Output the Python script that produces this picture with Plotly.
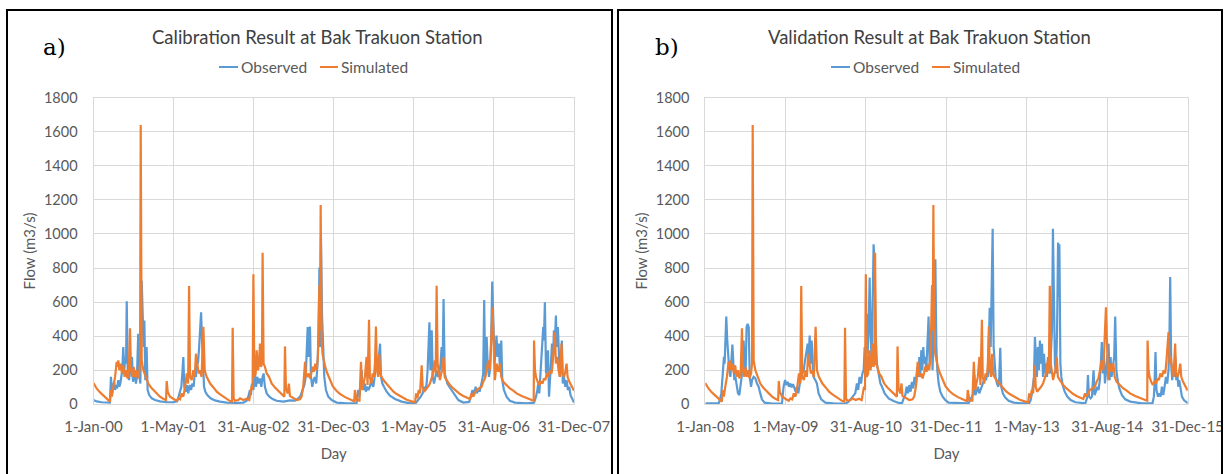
import pandas as pd
import plotly.graph_objects as go

# ---------------- data (day offset from period start, flow m3/s) ----------------
CAL_START, CAL_END = "2000-01-01", "2007-12-31"
VAL_START, VAL_END = "2008-01-01", "2015-12-31"

CAL_TICK_DATES = ["2000-01-01", "2001-05-01", "2002-08-31", "2003-12-31",
                  "2005-05-01", "2006-08-31", "2007-12-31"]
CAL_TICK_TEXT = ["1-Jan-00", "1-May-01", "31-Aug-02", "31-Dec-03",
                 "1-May-05", "31-Aug-06", "31-Dec-07"]
VAL_TICK_DATES = ["2008-01-01", "2009-05-01", "2010-08-31", "2011-12-31",
                  "2013-05-01", "2014-08-31", "2015-12-31"]
VAL_TICK_TEXT = ["1-Jan-08", "1-May-09", "31-Aug-10", "31-Dec-11",
                 "1-May-13", "31-Aug-14", "31-Dec-15"]
Y_TICKS = [0, 200, 400, 600, 800, 1000, 1200, 1400, 1600, 1800]

SIM = [(0,125),(19,93),(40,70),(60,51),(80,33),(100,16),(106,84),(112,45),(121,103),(131,161),(141,249),(147,220),(151,258),(157,200),(165,239),(173,181),(181,229),(189,161),(198,200),(206,152),(214,181),(222,447),(228,200),(236,161),(244,220),(252,161),(260,200),(268,152),(277,181),(283,239),(287,1640),(293,258),(303,200),(317,161),(333,122),(350,99),(364,84),(384,60),(404,45),(424,33),(441,25),(445,136),(451,74),(465,45),(485,31),(505,21),(516,35),(526,29),(536,64),(546,45),(557,103),(567,181),(575,122),(581,695),(587,161),(597,142),(607,200),(615,161),(623,297),(631,239),(639,181),(647,200),(657,161),(668,455),(676,200),(688,161),(709,122),(729,99),(749,74),(770,58),(790,45),(810,29),(830,19),(842,16),(846,450),(852,35),(860,21),(880,25),(891,35),(911,25),(931,33),(947,25),(961,103),(967,84),(972,764),(978,161),(986,181),(992,317),(1000,200),(1006,239),(1012,356),(1018,220),(1024,239),(1028,890),(1034,239),(1042,220),(1053,181),(1067,161),(1083,122),(1103,99),(1124,80),(1144,60),(1160,45),(1164,340),(1170,93),(1180,64),(1188,122),(1194,49),(1215,35),(1235,25),(1255,29),(1265,45),(1275,103),(1286,249),(1292,181),(1300,161),(1308,181),(1316,152),(1324,181),(1332,220),(1340,191),(1348,239),(1356,200),(1364,278),(1373,700),(1377,434),(1381,1170),(1387,375),(1393,290),(1400,250),(1410,215),(1420,185),(1437,140),(1455,105),(1478,78),(1500,60),(1530,42),(1560,28),(1585,18),(1589,84),(1599,25),(1617,21),(1626,249),(1634,84),(1644,122),(1650,161),(1660,278),(1666,113),(1675,496),(1680,161),(1689,122),(1697,181),(1705,161),(1711,239),(1717,457),(1723,200),(1731,161),(1737,297),(1743,181),(1751,161),(1766,138),(1782,119),(1802,95),(1822,76),(1843,60),(1873,43),(1904,27),(1934,17),(1955,12),(1961,64),(1969,35),(1977,84),(1985,64),(1995,229),(2001,103),(2009,74),(2021,87),(2033,103),(2045,122),(2058,161),(2066,200),(2074,258),(2080,181),(2086,696),(2092,239),(2100,161),(2106,142),(2114,181),(2120,200),(2128,278),(2135,161),(2147,142),(2167,113),(2187,93),(2208,74),(2228,60),(2248,49),(2268,39),(2289,31),(2299,64),(2309,45),(2319,68),(2329,84),(2343,93),(2359,103),(2369,132),(2380,152),(2390,200),(2400,258),(2410,200),(2420,434),(2426,570),(2432,375),(2440,142),(2450,239),(2461,191),(2471,239),(2479,161),(2491,132),(2511,113),(2531,93),(2552,80),(2572,64),(2603,49),(2633,35),(2664,25),(2676,21),(2678,375),(2684,200),(2690,161),(2700,132),(2710,113),(2720,132),(2730,122),(2738,152),(2747,142),(2755,181),(2765,161),(2775,200),(2785,181),(2791,239),(2805,424),(2811,239),(2819,278),(2827,200),(2835,161),(2845,356),(2851,181),(2860,161),(2868,191),(2876,239),(2882,161),(2893,132),(2907,107),(2921,80)]

OBS_CAL = [(0,25),(19,17),(50,12),(80,10),(100,10),(106,161),(112,64),(119,103),(125,132),(131,84),(137,113),(143,93),(151,142),(157,103),(163,122),(169,161),(175,200),(181,336),(187,200),(193,278),(198,239),(202,605),(208,200),(216,142),(222,200),(228,258),(234,278),(240,132),(246,181),(252,161),(258,122),(264,161),(272,414),(279,161),(285,122),(293,725),(299,531),(305,336),(309,492),(315,142),(323,336),(329,84),(339,54),(354,35),(374,25),(404,17),(445,12),(485,12),(509,17),(518,45),(526,64),(534,103),(540,181),(546,278),(552,103),(560,74),(568,113),(576,64),(585,113),(593,84),(601,122),(609,103),(617,200),(623,161),(629,278),(635,239),(641,317),(647,472),(654,540),(660,375),(666,239),(672,103),(680,74),(692,54),(712,35),(738,23),(769,16),(810,10),(870,8),(911,10),(931,21),(941,45),(951,84),(957,54),(963,122),(972,84),(982,181),(988,103),(996,161),(1004,122),(1012,152),(1020,103),(1028,161),(1034,181),(1042,103),(1053,64),(1069,45),(1089,31),(1113,21),(1154,16),(1194,23),(1225,21),(1245,35),(1259,51),(1271,84),(1282,113),(1290,161),(1296,278),(1302,453),(1308,278),(1316,457),(1322,161),(1330,103),(1338,142),(1346,161),(1354,122),(1362,239),(1369,434),(1373,803),(1377,336),(1383,978),(1389,531),(1395,336),(1403,161),(1413,84),(1427,45),(1448,25),(1468,16),(1478,10),(1538,6),(1599,6),(1610,84),(1616,45),(1624,103),(1630,200),(1636,103),(1642,84),(1650,122),(1656,74),(1664,103),(1672,84),(1680,103),(1689,152),(1695,113),(1701,103),(1709,161),(1715,239),(1721,278),(1727,200),(1733,258),(1742,356),(1748,161),(1756,122),(1766,103),(1782,74),(1802,51),(1833,31),(1873,16),(1924,6),(1961,10),(1975,25),(1989,45),(2001,64),(2011,103),(2019,84),(2025,122),(2031,200),(2035,278),(2042,482),(2048,200),(2052,278),(2056,434),(2062,161),(2070,122),(2078,161),(2086,200),(2094,161),(2102,181),(2110,239),(2116,336),(2122,200),(2128,618),(2135,181),(2143,152),(2151,122),(2163,103),(2177,84),(2197,51),(2218,25),(2248,10),(2284,14),(2296,54),(2304,84),(2312,54),(2323,103),(2331,64),(2339,93),(2347,74),(2355,103),(2363,142),(2369,181),(2375,612),(2381,161),(2390,395),(2396,239),(2404,161),(2410,200),(2416,317),(2424,721),(2430,434),(2438,239),(2444,317),(2450,404),(2456,278),(2464,356),(2471,200),(2479,375),(2485,142),(2495,84),(2511,45),(2531,21),(2562,10),(2633,6),(2678,10),(2690,45),(2698,84),(2704,122),(2710,64),(2716,181),(2722,239),(2728,375),(2734,453),(2738,375),(2744,599),(2751,181),(2757,239),(2763,317),(2769,45),(2775,200),(2781,239),(2787,356),(2793,258),(2799,434),(2805,375),(2811,521),(2817,336),(2823,453),(2829,278),(2835,161),(2841,239),(2847,375),(2853,122),(2860,161),(2868,103),(2876,142),(2884,84),(2892,103),(2900,54),(2910,29),(2921,10)]

OBS_VAL = [(0,6),(40,4),(81,6),(91,35),(97,64),(103,142),(107,200),(113,278),(117,239),(121,375),(127,515),(133,375),(139,239),(145,200),(152,161),(158,278),(164,350),(170,239),(176,142),(182,161),(190,122),(198,64),(206,54),(214,103),(220,161),(226,258),(232,375),(238,239),(244,181),(250,453),(256,472),(263,453),(269,161),(277,103),(283,142),(293,161),(303,152),(313,122),(323,103),(333,64),(343,29),(359,10),(404,4),(464,4),(474,103),(483,142),(491,113),(499,132),(507,103),(515,122),(523,99),(531,119),(539,93),(547,74),(555,103),(563,64),(571,113),(579,161),(587,181),(596,200),(604,258),(612,317),(620,356),(626,278),(632,404),(638,239),(644,375),(650,239),(656,161),(666,142),(676,122),(686,64),(702,29),(727,10),(787,4),(848,4),(868,16),(884,35),(898,54),(908,64),(918,122),(926,84),(934,161),(943,122),(951,181),(959,200),(965,336),(971,258),(977,531),(983,300),(989,433),(995,745),(1001,433),(1007,239),(1013,570),(1019,940),(1025,822),(1031,433),(1039,239),(1050,161),(1060,122),(1070,103),(1086,64),(1110,35),(1140,19),(1171,8),(1191,6),(1201,35),(1211,54),(1219,103),(1227,64),(1235,113),(1243,74),(1251,132),(1259,93),(1267,161),(1276,113),(1284,220),(1290,161),(1296,278),(1302,181),(1308,317),(1314,200),(1320,336),(1326,239),(1332,278),(1338,200),(1346,375),(1352,515),(1358,239),(1364,356),(1370,433),(1376,200),(1382,433),(1386,570),(1393,851),(1399,336),(1405,200),(1413,122),(1423,74),(1437,45),(1453,25),(1473,10),(1534,6),(1594,6),(1605,25),(1615,45),(1623,64),(1629,171),(1635,54),(1643,74),(1651,103),(1659,64),(1667,87),(1675,103),(1683,132),(1692,152),(1700,142),(1706,181),(1712,161),(1716,336),(1722,566),(1728,336),(1734,628),(1740,1030),(1746,336),(1752,200),(1758,161),(1766,122),(1774,103),(1780,161),(1786,332),(1792,103),(1802,64),(1816,39),(1837,21),(1867,10),(1917,6),(1962,8),(1970,25),(1978,64),(1984,103),(1990,161),(1996,395),(2002,239),(2008,161),(2014,336),(2020,200),(2026,375),(2032,239),(2039,356),(2045,161),(2051,297),(2057,181),(2063,239),(2069,161),(2075,278),(2081,200),(2087,181),(2093,278),(2099,433),(2105,1030),(2111,433),(2117,239),(2124,181),(2130,433),(2136,950),(2140,628),(2144,940),(2150,239),(2156,161),(2164,113),(2176,74),(2192,45),(2212,25),(2241,12),(2301,6),(2311,35),(2317,171),(2323,45),(2333,35),(2341,45),(2351,200),(2357,54),(2365,74),(2373,103),(2381,84),(2389,142),(2395,239),(2401,365),(2408,181),(2414,278),(2420,122),(2426,181),(2434,239),(2442,356),(2448,142),(2454,278),(2460,161),(2466,200),(2476,278),(2482,515),(2489,200),(2497,142),(2507,93),(2523,54),(2543,29),(2573,16),(2644,6),(2708,6),(2716,45),(2720,113),(2726,307),(2732,84),(2741,45),(2749,64),(2757,45),(2765,103),(2773,54),(2781,103),(2789,161),(2797,122),(2805,200),(2811,433),(2815,748),(2821,239),(2827,142),(2833,200),(2839,161),(2846,278),(2852,142),(2858,181),(2864,103),(2870,142),(2878,84),(2886,45),(2898,25),(2910,14),(2921,6)]

# simulated hydrograph read from panel b coincides with panel a
SIM_CAL = SIM
SIM_VAL = SIM

# ---------------- helpers ----------------
W, H = 1225, 474
BLUE, ORANGE = "#5B9BD5", "#ED7D31"
TXT = "#595959"
GRID = "#d9d9d9"
FONT = "Lato"


def px(x):
    return x / W


def py(y):
    return 1 - y / H


def to_xy(pairs, start):
    days = [p[0] for p in pairs]
    flow = [p[1] for p in pairs]
    x = pd.Timestamp(start) + pd.to_timedelta(days, unit="D")
    return x, flow


fig = go.Figure()

panels = [
    dict(obs=OBS_CAL, sim=SIM_CAL, start=CAL_START, end=CAL_END, xa="x", ya="y",
         tv=CAL_TICK_DATES, tt=CAL_TICK_TEXT, left=93.5, right=574.0, off=0,
         title="Calibration Result at Bak Trakuon Station", tag="a)"),
    dict(obs=OBS_VAL, sim=SIM_VAL, start=VAL_START, end=VAL_END, xa="x2", ya="y2",
         tv=VAL_TICK_DATES, tt=VAL_TICK_TEXT, left=705.3, right=1187.7, off=612,
         title="Validation Result at Bak Trakuon Station", tag="b)"),
]

annotations = []
shapes = []
top, bottom = 97.7, 404.3

for i, p in enumerate(panels):
    xo, yo = to_xy(p["obs"], p["start"])
    xs, ys = to_xy(p["sim"], p["start"])
    fig.add_trace(go.Scatter(x=xo, y=yo, mode="lines", name="Observed",
                             line=dict(color=BLUE, width=2.2), xaxis=p["xa"], yaxis=p["ya"],
                             showlegend=False))
    fig.add_trace(go.Scatter(x=xs, y=ys, mode="lines", name="Simulated",
                             line=dict(color=ORANGE, width=2.2), xaxis=p["xa"], yaxis=p["ya"],
                             showlegend=False))
    sfx = "" if i == 0 else "2"
    fig.layout["xaxis" + sfx] = dict(
        domain=[px(p["left"]), px(p["right"])], anchor=p["ya"], type="date",
        range=[p["start"], p["end"]], tickmode="array", tickvals=p["tv"], ticktext=p["tt"],
        showgrid=True, gridcolor=GRID, gridwidth=1, showline=True, linecolor=GRID,
        linewidth=1, mirror=True, zeroline=False, ticks="", ticklabelstandoff=9,
        tickfont=dict(family=FONT, size=15, color=TXT), automargin=False,
        title=dict(text="Day", font=dict(family=FONT, size=15, color=TXT), standoff=14),
    )
    fig.layout["yaxis" + sfx] = dict(
        domain=[py(bottom), py(top)], anchor=p["xa"], range=[0, 1800],
        tickmode="array", tickvals=Y_TICKS,
        showgrid=True, gridcolor=GRID, gridwidth=1, showline=True, linecolor=GRID,
        linewidth=1, mirror=True, zeroline=False, ticks="", ticklabelstandoff=12,
        tickfont=dict(family=FONT, size=14.5, color=TXT), automargin=False,
        title=dict(text="Flow (m3/s)", font=dict(family=FONT, size=15, color=TXT), standoff=4),
    )
    off = p["off"]
    annotations.append(dict(text=p["title"], x=px(317 + off), y=py(37), xref="paper",
                            yref="paper", showarrow=False, xanchor="center", yanchor="middle",
                            font=dict(family=FONT, size=18.5, color="#404040")))
    annotations.append(dict(text=p["tag"], x=px(41 + off), y=py(47), xref="paper",
                            yref="paper", showarrow=False, xanchor="left", yanchor="middle",
                            font=dict(family="DejaVu Serif", size=23, color="#000000")))
    # legend (Excel style short line + label)
    for (x0, x1, tx, lab, col) in [(219, 238, 239, "Observed", BLUE),
                                   (320, 338, 339, "Simulated", ORANGE)]:
        shapes.append(dict(type="line", xref="paper", yref="paper",
                           x0=px(x0 + off), x1=px(x1 + off), y0=py(67), y1=py(67),
                           line=dict(color=col, width=2)))
        annotations.append(dict(text=lab, x=px(tx + off), y=py(67), xref="paper",
                                yref="paper", showarrow=False, xanchor="left",
                                yanchor="middle",
                                font=dict(family=FONT, size=15.5, color=TXT)))

# panel frames
shapes.append(dict(type="rect", xref="paper", yref="paper", x0=px(7), x1=px(612),
                   y0=-0.05, y1=py(10), line=dict(color="#000000", width=2)))
shapes.append(dict(type="rect", xref="paper", yref="paper", x0=px(618), x1=px(1222),
                   y0=-0.05, y1=py(10), line=dict(color="#000000", width=2)))

fig.update_layout(
    width=W, height=H, margin=dict(l=0, r=0, t=0, b=0),
    paper_bgcolor="white", plot_bgcolor="white",
    annotations=annotations, shapes=shapes, showlegend=False,
    font=dict(family=FONT, color=TXT),
)

fig.write_html("out.html", config={"displayModeBar": False},
               post_script="document.body.style.margin='0';document.body.style.overflow='hidden';")
